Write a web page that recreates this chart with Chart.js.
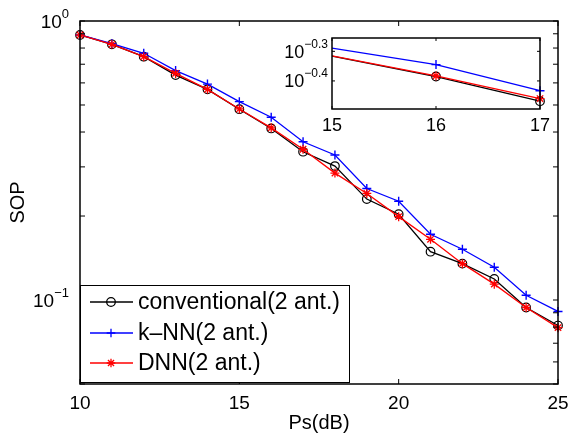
<!DOCTYPE html>
<html>
<head>
<meta charset="utf-8">
<script src="https://cdn.jsdelivr.net/npm/chart.js@4.4.0/dist/chart.umd.min.js"></script>
<style>
  body { margin: 0; background: #fff; }
  #wrap { position: relative; width: 569px; height: 435px; }
  #main { position: absolute; left: 0; top: 0; }
  #inset { position: absolute; left: 270px; top: 25px; }
</style>
</head>
<body>
<div id="wrap">
  <canvas id="main" width="569" height="435"></canvas>
  <canvas id="inset" width="280" height="115"></canvas>
</div>
<script>
// values
const ps = [10, 11, 12, 13, 14, 15, 16, 17, 18, 19, 20, 21, 22, 23, 24, 25];
const conventional = [0.891, 0.825, 0.745, 0.640, 0.569, 0.483, 0.412, 0.340, 0.302, 0.230, 0.203, 0.149, 0.135, 0.119, 0.094, 0.081];
const knn = [0.891, 0.830, 0.766, 0.664, 0.594, 0.514, 0.452, 0.369, 0.331, 0.251, 0.226, 0.172, 0.152, 0.131, 0.104, 0.091];
const dnn = [0.891, 0.825, 0.745, 0.649, 0.569, 0.484, 0.414, 0.347, 0.285, 0.241, 0.199, 0.165, 0.135, 0.114, 0.094, 0.0796];
const labels = ['conventional(2 ant.)', 'k\u2013NN(2 ant.)', 'DNN(2 ant.)'];

const xTicks = [10, 15, 20, 25];
const yMajor = [1, 0.1];
const yMajorExp = ['0', '\u22121'];
const yMinor = [0.05, 0.06, 0.07, 0.08, 0.09, 0.2, 0.3, 0.4, 0.5, 0.6, 0.7, 0.8, 0.9];

const insetTicksX = [15, 16, 17];
const insetMajor = [Math.pow(10, -0.4), Math.pow(10, -0.3)];
const insetMajorExp = ['\u22120.4', '\u22120.3'];

const FONT = '"Liberation Sans", Arial, Helvetica, sans-serif';

function makeSets(insetMode) {
  const seg = insetMode ? {
    borderColor: c => c.p1.parsed.x > 17 ? 'rgba(0,0,0,0)' : undefined
  } : undefined;
  const rad = r => insetMode ? (c => (c.raw && c.raw.x <= 15) ? 0 : r) : r;
  const toXY = arr => arr.map((v, i) => ({x: ps[i], y: v}));
  const clip = insetMode ? {left: 0, top: 0, right: 7, bottom: 0} : 6;
  return [
    {label: labels[0], data: toXY(conventional), borderColor: '#000000', borderWidth: 1.3,
     pointStyle: 'circle', pointRadius: rad(4.3), pointBorderColor: '#000000', pointBorderWidth: 1.2,
     pointBackgroundColor: 'rgba(0,0,0,0)', order: 2, segment: seg, clip: clip},
    {label: labels[1], data: toXY(knn), borderColor: '#0000ff', borderWidth: 1.3,
     pointStyle: 'cross', pointRadius: rad(4.5), pointBorderColor: '#0000ff', pointBorderWidth: 1.4,
     order: 1, segment: seg, clip: clip},
    {label: labels[2], data: toXY(dnn), borderColor: '#ff0000', borderWidth: 1.3,
     pointStyle: 'star', pointRadius: rad(4.5), pointBorderColor: '#ff0000', pointBorderWidth: 1.3,
     order: 0, segment: seg, clip: clip}
  ];
}

function drawPow(ctx, exp, xRight, y, baseSize, expSize, raise) {
  ctx.fillStyle = '#000';
  ctx.textBaseline = 'middle';
  ctx.textAlign = 'left';
  ctx.font = baseSize + 'px ' + FONT;
  const bw = ctx.measureText('10').width;
  ctx.font = expSize + 'px ' + FONT;
  const ew = ctx.measureText(exp).width;
  ctx.fillText(exp, xRight - ew, y - raise);
  ctx.font = baseSize + 'px ' + FONT;
  ctx.fillText('10', xRight - ew - bw, y + 1.5);
}

function drawMarker(ctx, style, x, y, r) {
  ctx.beginPath();
  if (style === 'circle') {
    ctx.arc(x, y, r, 0, Math.PI * 2);
  } else {
    ctx.moveTo(x - r, y); ctx.lineTo(x + r, y);
    ctx.moveTo(x, y - r); ctx.lineTo(x, y + r);
    if (style === 'star') {
      const d = r * Math.SQRT1_2;
      ctx.moveTo(x - d, y - d); ctx.lineTo(x + d, y + d);
      ctx.moveTo(x - d, y + d); ctx.lineTo(x + d, y - d);
    }
  }
  ctx.stroke();
}

function boxAndTicks(chart, tx, yTicks, len) {
  const {ctx, chartArea: a, scales} = chart;
  ctx.save();
  ctx.strokeStyle = '#000';
  ctx.lineWidth = 1.5;
  ctx.strokeRect(a.left, a.top, a.right - a.left, a.bottom - a.top);
  ctx.lineWidth = 1;
  ctx.beginPath();
  tx.forEach(v => {
    const x = scales.x.getPixelForValue(v);
    ctx.moveTo(x, a.bottom); ctx.lineTo(x, a.bottom - len);
    ctx.moveTo(x, a.top); ctx.lineTo(x, a.top + len);
  });
  yTicks.forEach(v => {
    const y = scales.y.getPixelForValue(v);
    ctx.moveTo(a.left, y); ctx.lineTo(a.left + len, y);
    ctx.moveTo(a.right, y); ctx.lineTo(a.right - len, y);
  });
  ctx.stroke();
  ctx.restore();
}

const mainDeco = {
  id: 'mainDeco',
  afterDraw(chart) {
    const {ctx, scales} = chart;
    boxAndTicks(chart, xTicks, yMinor.concat(yMajor), 5);
    ctx.save();
    yMajor.forEach((v, i) => {
      drawPow(ctx, yMajorExp[i], 69, scales.y.getPixelForValue(v), 19, 13, 7);
    });
    // legend box inside the plot
    const lx = 80, ly = 285, lw = 269, lh = 97;
    ctx.fillStyle = '#fff';
    ctx.fillRect(lx, ly, lw, lh);
    ctx.strokeStyle = '#000';
    ctx.lineWidth = 1;
    ctx.strokeRect(lx + 0.5, ly + 0.5, lw, lh);
    const rows = [302, 333, 363];
    chart.data.datasets.forEach((ds, i) => {
      const y = rows[i];
      ctx.strokeStyle = ds.borderColor;
      ctx.lineWidth = 1.3;
      ctx.beginPath();
      ctx.moveTo(90, y); ctx.lineTo(133, y);
      ctx.stroke();
      drawMarker(ctx, ds.pointStyle, 111, y, 4.3);
      ctx.fillStyle = '#000';
      ctx.font = '23px ' + FONT;
      ctx.textBaseline = 'middle';
      ctx.textAlign = 'left';
      ctx.fillText(ds.label, 138, y + 1);
    });
    ctx.restore();
  }
};

const insetDeco = {
  id: 'insetDeco',
  beforeDraw(chart) {
    const {ctx, chartArea: a} = chart;
    ctx.save();
    ctx.fillStyle = '#fff';
    ctx.fillRect(a.left, a.top, a.right - a.left, a.bottom - a.top);
    ctx.restore();
  },
  afterDraw(chart) {
    const {ctx, scales} = chart;
    boxAndTicks(chart, insetTicksX, insetMajor, 3);
    ctx.save();
    insetMajor.forEach((v, i) => {
      drawPow(ctx, insetMajorExp[i], 58, scales.y.getPixelForValue(v), 18, 12, 7);
    });
    ctx.restore();
  }
};

new Chart(document.getElementById('main'), {
  type: 'line',
  data: {datasets: makeSets(false)},
  options: {
    responsive: false,
    animation: false,
    devicePixelRatio: 1,
    layout: {padding: {left: 0, right: 11, top: 21, bottom: 0}},
    plugins: {legend: {display: false}, tooltip: {enabled: false}},
    scales: {
      x: {
        type: 'linear', min: 10, max: 25,
        afterBuildTicks: s => { s.ticks = xTicks.map(v => ({value: v})); },
        afterFit: s => { s.height = 51; s.paddingLeft = 0; s.paddingRight = 0; },
        grid: {display: false, drawTicks: false},
        border: {display: false},
        ticks: {color: '#000', font: {family: FONT, size: 19}, padding: 8, maxRotation: 0},
        title: {display: true, text: 'Ps(dB)', color: '#000', font: {family: FONT, size: 20}, padding: {top: 0, bottom: 0}}
      },
      y: {
        type: 'logarithmic', min: 0.05, max: 1,
        afterFit: s => { s.width = 80; },
        grid: {display: false, drawTicks: false},
        border: {display: false},
        ticks: {display: false},
        title: {display: true, text: 'SOP', color: '#000', font: {family: FONT, size: 20}, padding: {top: 6, bottom: 0}}
      }
    }
  },
  plugins: [mainDeco]
});

new Chart(document.getElementById('inset'), {
  type: 'line',
  data: {datasets: makeSets(true)},
  options: {
    responsive: false,
    animation: false,
    devicePixelRatio: 1,
    layout: {padding: {left: 0, right: 10, top: 13, bottom: 0}},
    plugins: {legend: {display: false}, tooltip: {enabled: false}},
    scales: {
      x: {
        type: 'linear', min: 15, max: 17,
        afterBuildTicks: s => { s.ticks = insetTicksX.map(v => ({value: v})); },
        afterFit: s => { s.height = 31; s.paddingLeft = 0; s.paddingRight = 0; },
        grid: {display: false, drawTicks: false},
        border: {display: false},
        ticks: {color: '#000', font: {family: FONT, size: 18}, padding: 6, maxRotation: 0}
      },
      y: {
        type: 'logarithmic', min: 0.3225, max: 0.556,
        afterFit: s => { s.width = 62; },
        grid: {display: false, drawTicks: false},
        border: {display: false},
        ticks: {display: false}
      }
    }
  },
  plugins: [insetDeco]
});
</script>
</body>
</html>
